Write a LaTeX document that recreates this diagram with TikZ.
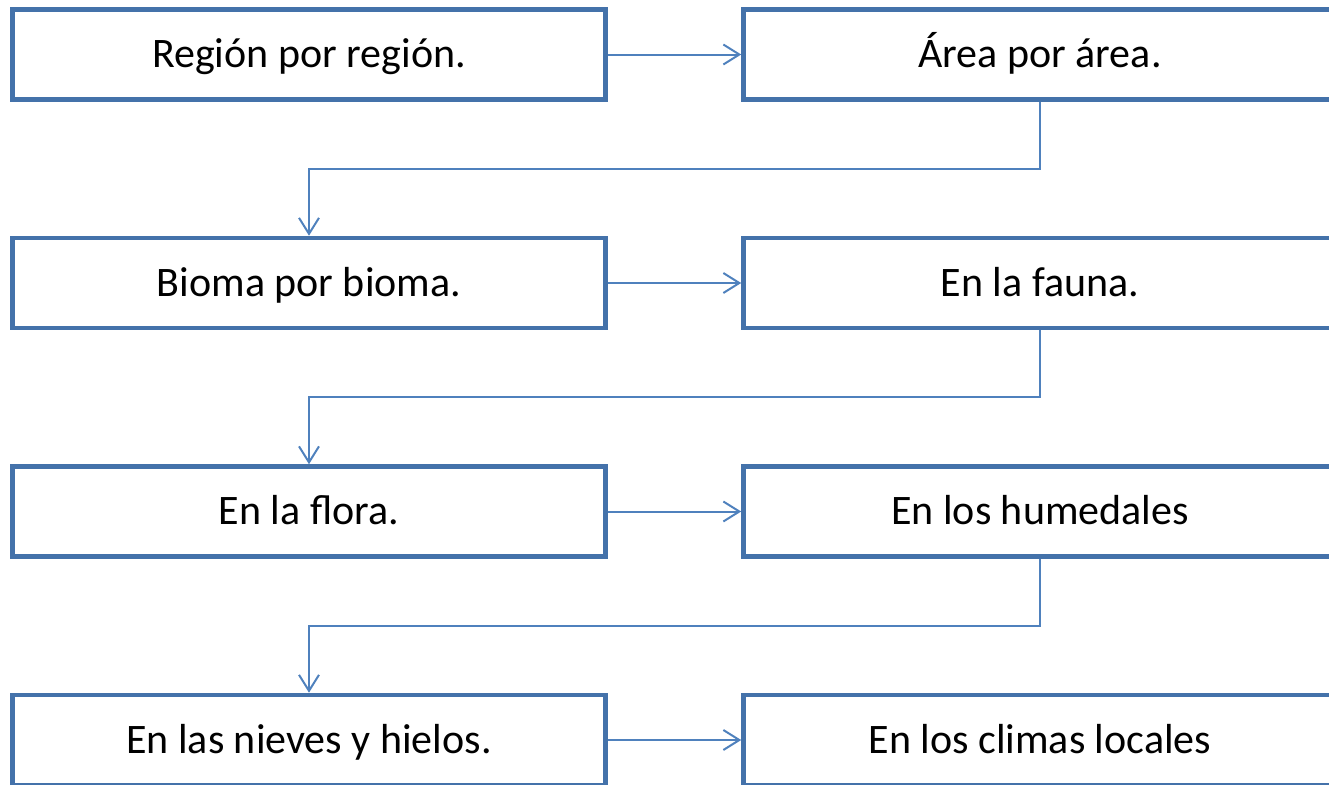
\documentclass[tikz,border=0pt]{standalone}
\usepackage{fontspec}
\setmainfont{Carlito}
\usetikzlibrary{arrows.meta,calc}
\definecolor{boxblue}{RGB}{68,114,170}
\definecolor{linkblue}{RGB}{79,129,189}

\begin{document}
\begin{tikzpicture}
    [x=0.75pt,y=-0.75pt,
     every node/.style={draw=boxblue,line width=3.4pt,fill=white,minimum width=593*0.75pt,minimum height=90*0.75pt,inner sep=0pt,text height=26pt,text depth=6pt,font=\fontsize{31.5}{36}\selectfont},
     link/.style={draw=linkblue,line width=1.5pt,-{Straight Barb[length=12pt,width=15pt,line width=1.5pt]}}]
    \useasboundingbox (0,0) rectangle (1329,785);
    \clip (0,0) rectangle (1329,785);

    \node (re) at (309,54.5) {Región por región.};
    \node (ar) at (1040,54.5) {Área por área.};
    \node (bi) at (309,283) {Bioma por bioma.};
    \node (fa) at (1040,283) {En la fauna.};
    \node (fl) at (309,511.5) {En la flora.};
    \node (hu) at (1040,511.5) {En los humedales};
    \node (ni) at (309,740) {En las nieves y hielos.};
    \node (cl) at (1040,740) {En los climas locales};

    \draw[link] (re) -- (ar);
    \draw[link] (ar.south) |- ($(ar.south)!.5!(bi.north)$) -| (bi.north);
    \draw[link] (bi) -- (fa);
    \draw[link] (fa.south) |- ($(fa.south)!.5!(fl.north)$) -| (fl.north);
    \draw[link] (fl) -- (hu);
    \draw[link] (hu.south) |- ($(hu.south)!.5!(ni.north)$) -| (ni.north);
    \draw[link] (ni) -- (cl);
\end{tikzpicture}
\end{document}
